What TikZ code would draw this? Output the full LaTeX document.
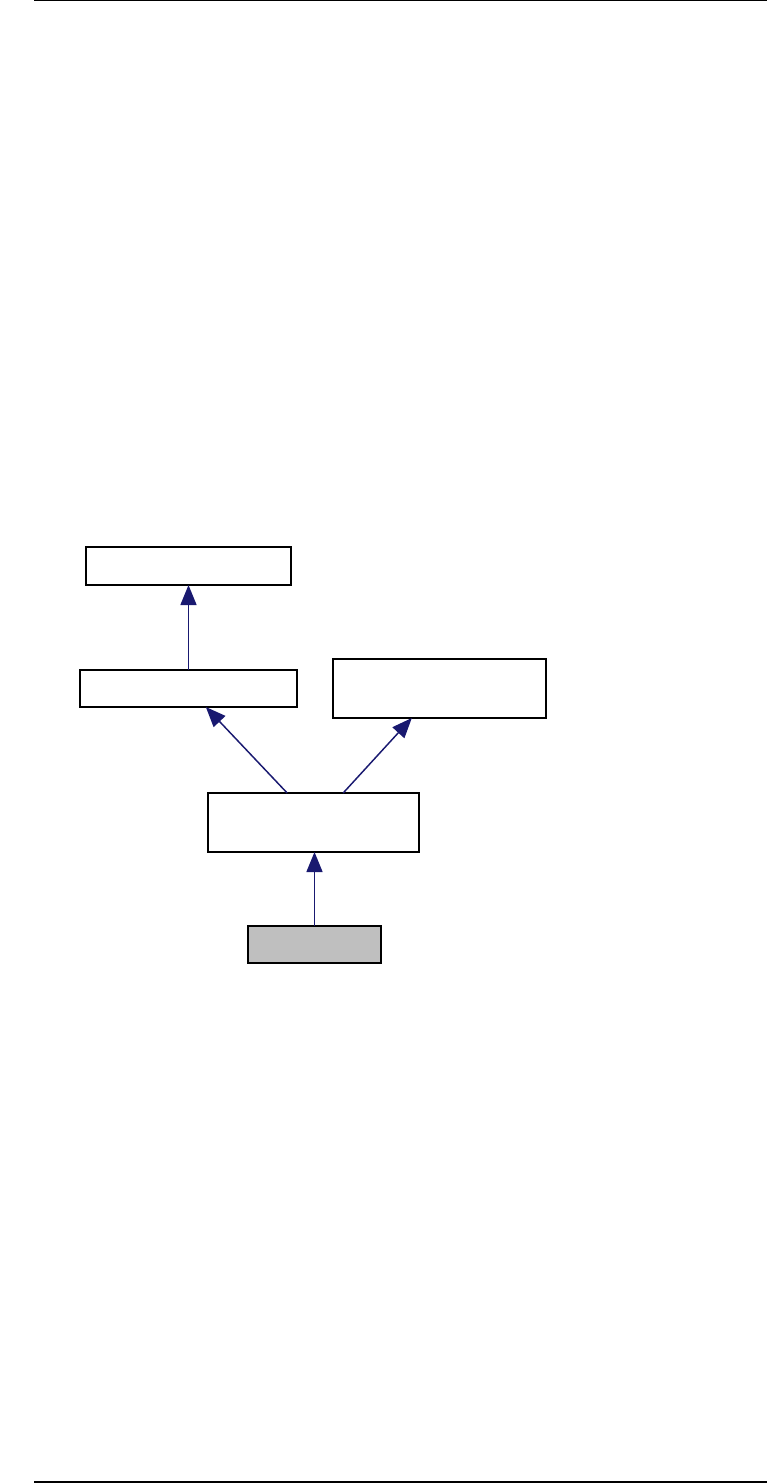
\documentclass[tikz,border=0pt]{standalone}
\usetikzlibrary{arrows.meta,calc}
\definecolor{edgeblue}{HTML}{191970}
\definecolor{boxgray}{HTML}{BFBFBF}
\begin{document}
\begin{tikzpicture}[x=0.75pt,y=-0.75pt,
  box/.style={draw=black,line width=1.3pt,fill=white,inner sep=0pt,outer sep=0pt},
  edge/.style={draw=edgeblue,line width=1.1pt,-{Triangle[length=15pt,width=12pt,fill=edgeblue]}},
  rule/.style={draw=black,line width=0.9pt}]
\useasboundingbox (0,0) rectangle (767,1483);
\coordinate (tl) at (34,0.6);
\coordinate (tr) at (767,0.6);
\coordinate (bl) at (34,1482);
\coordinate (br) at (767,1482);
\draw[rule] (tl) -- (tr);
\draw[rule] (bl) -- (br);
\node[box,minimum width=154pt,minimum height=28.5pt] (A) at (188.5,566) {};
\node[box,minimum width=163pt,minimum height=27.75pt] (B) at (188.5,688.5) {};
\node[box,minimum width=160pt,minimum height=44.25pt] (C) at (439.5,688.5) {};
\node[box,minimum width=158pt,minimum height=44.25pt] (D) at (313.5,822.5) {};
\node[box,fill=boxgray,minimum width=100pt,minimum height=27.75pt] (E) at (314.5,944.5) {};
\draw[edge] (B.north) -- (A.south);
\draw[edge] ($(D.north west)+(79,0)$) -- ($(B.south west)+(126,0)$);
\draw[edge] ($(D.north west)+(135,0)$) -- ($(C.south west)+(79,0)$);
\draw[edge] (E.north) -- (D.south -| E.north);
\end{tikzpicture}
\end{document}
